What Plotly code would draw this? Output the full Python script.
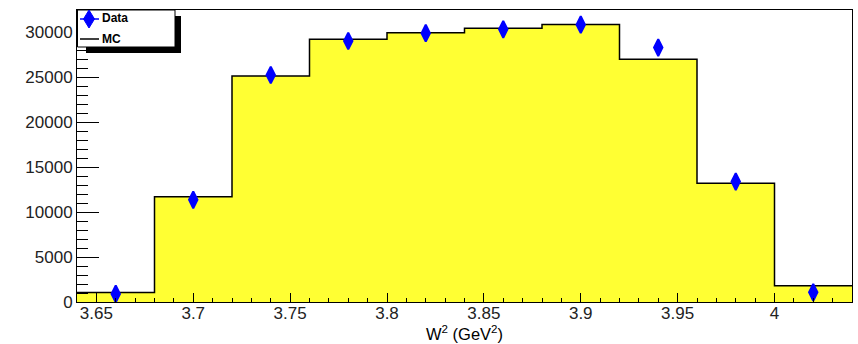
import numpy as np
import plotly.graph_objects as go

# Binning of W^2 (GeV^2)
bin_edges = [3.64, 3.68, 3.72, 3.76, 3.80, 3.84, 3.88, 3.92, 3.96, 4.00, 4.04]
bin_centers = [3.66, 3.70, 3.74, 3.78, 3.82, 3.86, 3.90, 3.94, 3.98, 4.02]

# Monte Carlo histogram contents
mc_counts = [1060, 11700, 25140, 29220, 29950, 30450, 30880, 27000, 13220, 1810]

# Measured data
data_counts = [900, 11370, 25250, 29030, 29900, 30330, 30850, 28300, 13400, 1080]

# Axis tick labels
x_tickvals = [3.65, 3.70, 3.75, 3.80, 3.85, 3.90, 3.95, 4.00]
x_ticktext = ["3.65", "3.7", "3.75", "3.8", "3.85", "3.9", "3.95", "4"]
y_tickvals = [0, 5000, 10000, 15000, 20000, 25000, 30000]
y_ticktext = ["0", "5000", "10000", "15000", "20000", "25000", "30000"]

FONT = "Liberation Sans, Arial, Helvetica, sans-serif"
W, H = 858, 344
ML, MR, MT, MB = 77, 6, 10, 42
PW, PH = W - ML - MR, H - MT - MB


def px(xp):
    return (xp - ML) / PW


def py(yp):
    return (H - MB - yp) / PH


fig = go.Figure()

# MC histogram drawn as a filled step outline
fig.add_trace(go.Scatter(
    x=bin_edges,
    y=mc_counts + [mc_counts[-1]],
    mode="lines",
    line=dict(shape="hv", color="black", width=1.5),
    fill="tozeroy",
    fillcolor="#ffff33",
    showlegend=False,
    hoverinfo="skip",
))

# Data points
fig.add_trace(go.Scatter(
    x=bin_centers,
    y=data_counts,
    mode="markers",
    marker=dict(symbol="diamond-tall", size=12, color="#0000ff",
                line=dict(color="#0000ff", width=2)),
    showlegend=False,
))

# Legend box with drop shadow
shapes = []
shapes.append(dict(type="rect", xref="paper", yref="paper",
                   x0=px(86), x1=px(181), y0=py(53), y1=py(16),
                   fillcolor="black", line=dict(width=0), layer="above"))
shapes.append(dict(type="rect", xref="paper", yref="paper",
                   x0=px(77.5), x1=px(175), y0=py(47), y1=py(10),
                   fillcolor="white", line=dict(color="black", width=1), layer="above"))
# Data entry: error-bar line plus diamond
shapes.append(dict(type="line", xref="paper", yref="paper",
                   x0=px(80), x1=px(99), y0=py(19), y1=py(19),
                   line=dict(color="#0000ff", width=1.5), layer="above"))
cx, cy, hw, hh = 89, 19, 5.5, 9
diamond = "M {} {} L {} {} L {} {} L {} {} Z".format(
    px(cx), py(cy - hh), px(cx + hw), py(cy), px(cx), py(cy + hh), px(cx - hw), py(cy))
shapes.append(dict(type="path", xref="paper", yref="paper", path=diamond,
                   fillcolor="#0000ff", line=dict(color="#0000ff", width=1), layer="above"))
# MC entry: line
shapes.append(dict(type="line", xref="paper", yref="paper",
                   x0=px(80), x1=px(99), y0=py(39), y1=py(39),
                   line=dict(color="black", width=1.5), layer="above"))

annotations = [
    dict(text="<b>Data</b>", xref="paper", yref="paper", x=px(100), y=py(18.5),
         xanchor="left", yanchor="middle", showarrow=False,
         font=dict(family=FONT, size=12, color="black")),
    dict(text="<b>MC</b>", xref="paper", yref="paper", x=px(100), y=py(38.5),
         xanchor="left", yanchor="middle", showarrow=False,
         font=dict(family=FONT, size=12, color="black")),
    dict(text="W<sup>2</sup> (GeV<sup>2</sup>)", xref="paper", yref="paper",
         x=0.5, y=py(332.5), xanchor="center", yanchor="middle", showarrow=False,
         font=dict(family=FONT, size=16.5, color="black")),
]

fig.update_layout(
    width=W, height=H,
    margin=dict(l=ML, r=MR, t=MT, b=MB, pad=0),
    paper_bgcolor="white",
    plot_bgcolor="white",
    font=dict(family=FONT, size=17, color="black"),
    shapes=shapes,
    annotations=annotations,
    showlegend=False,
)

fig.update_xaxes(
    range=[3.64, 4.04],
    tickmode="array", tickvals=x_tickvals, ticktext=x_ticktext,
    ticks="inside", ticklen=9, tickwidth=1, tickcolor="black",
    minor=dict(tickmode="linear", tick0=3.64, dtick=0.01, ticks="inside",
               ticklen=4.5, tickwidth=1, tickcolor="black"),
    showline=True, linecolor="black", linewidth=1, mirror=True,
    showgrid=False, zeroline=False,
    ticklabelstandoff=-4,
    tickfont=dict(family=FONT, size=17, color="#222222"),
)

fig.update_yaxes(
    range=[0, 32480],
    tickmode="array", tickvals=y_tickvals, ticktext=y_ticktext,
    ticks="inside", ticklen=22, tickwidth=1, tickcolor="black",
    minor=dict(tickmode="linear", tick0=0, dtick=1000, ticks="inside",
               ticklen=11, tickwidth=1, tickcolor="black"),
    showline=True, linecolor="black", linewidth=1, mirror=True,
    showgrid=False, zeroline=False,
    tickfont=dict(family=FONT, size=17, color="#222222"),
)

fig.write_html("out.html")
